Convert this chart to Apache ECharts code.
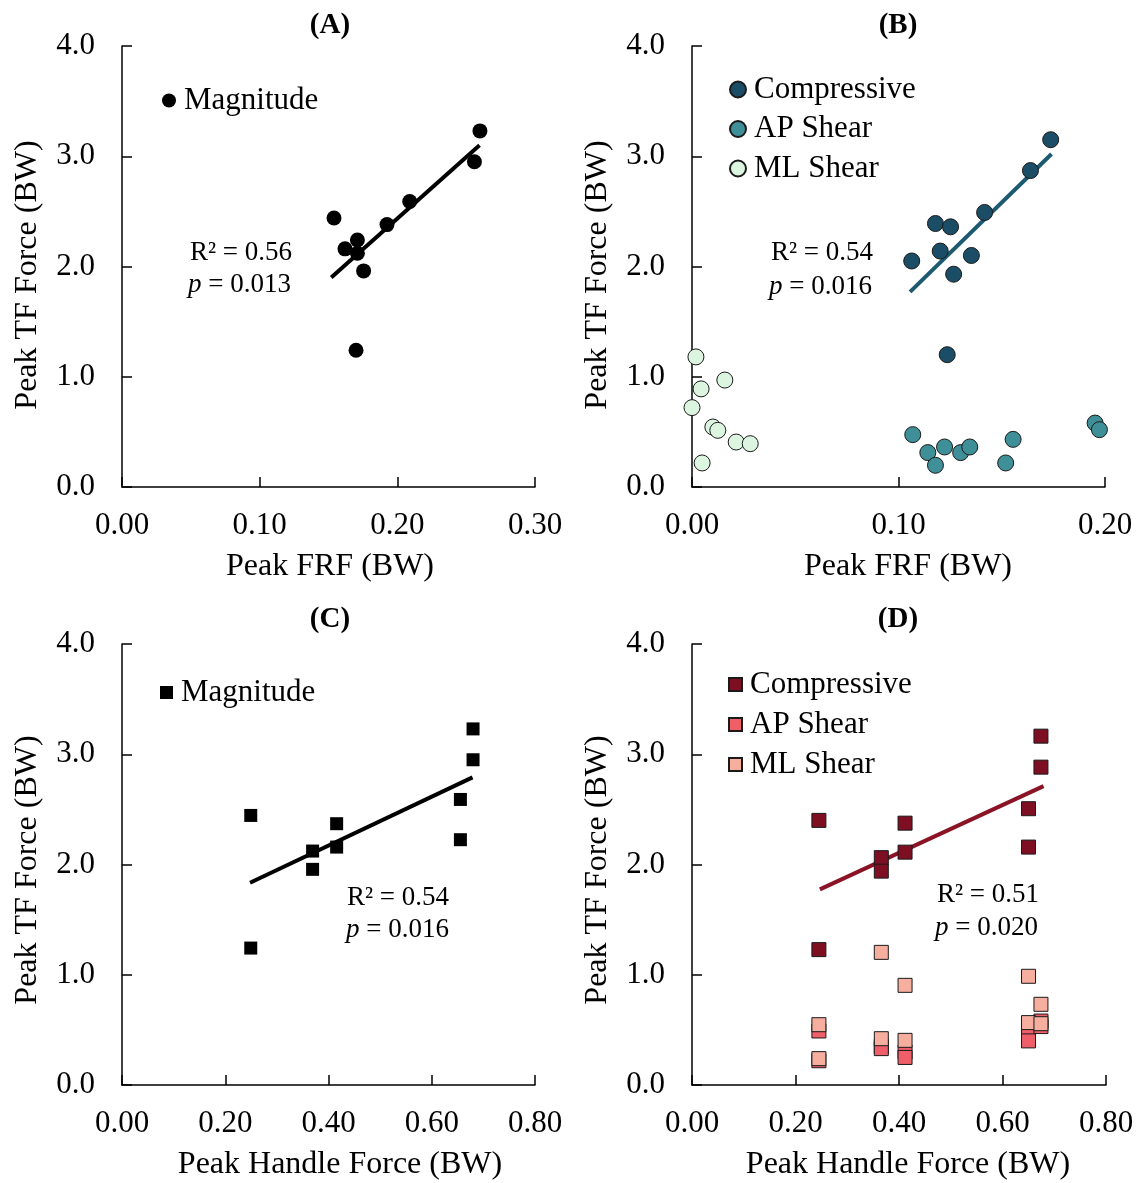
<!DOCTYPE html>
<html><head><meta charset="utf-8">
<script src="https://cdn.jsdelivr.net/npm/echarts@6/dist/echarts.min.js"></script>
<style>html,body{margin:0;padding:0;background:#fff}#c{width:1141px;height:1183px}</style>
</head><body><div id="c"></div>
<script>
const FONT = "'Liberation Serif','Times New Roman',serif";

// ---------- Panel A: Peak FRF vs Peak TF Force (magnitude) ----------
const A_mag_x = [0.260, 0.256, 0.154, 0.209, 0.1925, 0.171, 0.162, 0.171, 0.1755, 0.170];
const A_mag_y = [3.23, 2.95, 2.44, 2.59, 2.38, 2.24, 2.16, 2.12, 1.96, 1.24];
const A_trend_x = [0.152, 0.2597];
const A_trend_y = [1.90, 3.10];

// ---------- Panel B: Peak FRF vs components ----------
const B_comp_x = [0.1737, 0.1639, 0.1417, 0.1179, 0.1252, 0.1202, 0.1353, 0.1064, 0.1267, 0.1236];
const B_comp_y = [3.15, 2.87, 2.49, 2.39, 2.36, 2.14, 2.10, 2.05, 1.93, 1.20];
const B_ap_x = [0.1952, 0.1973, 0.1069, 0.1555, 0.1142, 0.1223, 0.1301, 0.1345, 0.1179, 0.1519];
const B_ap_y = [0.58, 0.52, 0.475, 0.432, 0.312, 0.363, 0.312, 0.363, 0.197, 0.218];
const B_ml_x = [0.0019, 0.0159, 0.0044, 0.0000, 0.0101, 0.0125, 0.0214, 0.0282, 0.0049];
const B_ml_y = [1.18, 0.97, 0.89, 0.72, 0.544, 0.514, 0.408, 0.393, 0.218];
const B_trend_x = [0.1056, 0.1741];
const B_trend_y = [1.77, 3.02];

// ---------- Panel C: Peak Handle Force vs Peak TF Force (magnitude) ----------
const C_mag_x = [0.680, 0.680, 0.6555, 0.6555, 0.2494, 0.2494, 0.4158, 0.4158, 0.3692, 0.3692];
const C_mag_y = [3.23, 2.95, 2.59, 2.225, 2.445, 1.242, 2.37, 2.158, 2.122, 1.956];
const C_trend_x = [0.248, 0.679];
const C_trend_y = [1.835, 2.79];

// ---------- Panel D: Peak Handle Force vs components ----------
const D_x = [0.2452, 0.2452, 0.3658, 0.3658, 0.4117, 0.4117, 0.6503, 0.6503, 0.6743, 0.6743];
const D_comp_y = [2.40, 1.228, 2.062, 1.94, 2.375, 2.112, 2.506, 2.158, 3.164, 2.883];
const D_ap_y = [0.49, 0.22, 0.35, 0.33, 0.30, 0.25, 0.49, 0.40, 0.58, 0.53];
const D_ml_y = [0.547, 0.239, 1.203, 0.42, 0.904, 0.405, 0.986, 0.566, 0.732, 0.556];
const D_trend_x = [0.2471, 0.6793];
const D_trend_y = [1.774, 2.711];

// ---------- Axes / labels ----------
const yTicks = { min: 0, max: 4, interval: 1, decimals: 1 };
const xTicksFRF_A = { min: 0, max: 0.3, interval: 0.1, decimals: 2 };
const xTicksFRF_B = { min: 0, max: 0.2, interval: 0.1, decimals: 2 };
const xTicksHandle = { min: 0, max: 0.8, interval: 0.2, decimals: 2 };
const panelTitles = ['(A)', '(B)', '(C)', '(D)'];
const xTitles = ['Peak FRF (BW)', 'Peak FRF (BW)', 'Peak Handle Force (BW)', 'Peak Handle Force (BW)'];
const yTitle = 'Peak TF Force (BW)';
const annR2 = ['R² = 0.56', 'R² = 0.54', 'R² = 0.54', 'R² = 0.51'];
const annP = ['0.013', '0.016', '0.016', '0.020'];

const COL = {
  black: '#000000',
  bComp: '#1b4e66', bAP: '#3f8f98', bML: '#dcf5e1', bTrend: '#1d5a72',
  dComp: '#7e0f22', dAP: '#ef5f69', dML: '#f6ae9f', dTrend: '#8a1426'
};

function pairs(xs, ys) { return xs.map((x, i) => [x, ys[i]]); }

const chart = echarts.init(document.getElementById('c'));

const grids = [
  { left: 122, top: 46, width: 413, height: 441 },
  { left: 692, top: 46, width: 413, height: 441 },
  { left: 122, top: 644, width: 413, height: 441 },
  { left: 692, top: 644, width: 414, height: 441 }
];

function axisCommon(t, idx, isY) {
  return {
    type: 'value', gridIndex: idx, min: t.min, max: t.max, interval: t.interval,
    axisLine: { show: true, onZero: false, lineStyle: { color: '#000', width: 1.5 } },
    axisTick: { show: true, inside: true, length: 10, lineStyle: { color: '#000', width: 1.5 } },
    splitLine: { show: false },
    axisLabel: {
      fontFamily: FONT, fontSize: 31, color: '#000', margin: isY ? 27 : 23,
      formatter: v => v.toFixed(t.decimals)
    }
  };
}

const xAxes = [
  axisCommon(xTicksFRF_A, 0, false), axisCommon(xTicksFRF_B, 1, false),
  axisCommon(xTicksHandle, 2, false), axisCommon(xTicksHandle, 3, false)
];
const yAxes = [0, 1, 2, 3].map(i => axisCommon(yTicks, i, true));

function scatter(name, idx, data, symbol, size, color, border) {
  return {
    name, type: 'scatter', xAxisIndex: idx, yAxisIndex: idx, data, symbol, symbolSize: size,
    itemStyle: { color, borderColor: border ? '#1a1a1a' : color, borderWidth: border ? 1 : 0, opacity: 1 },
    z: 3, emphasis: { disabled: true }
  };
}
function trend(idx, xs, ys, color) {
  return {
    type: 'line', xAxisIndex: idx, yAxisIndex: idx, data: pairs(xs, ys),
    symbol: 'none', showSymbol: false, lineStyle: { color, width: 4 }, z: 2,
    emphasis: { disabled: true }, silent: true
  };
}

const series = [
  trend(0, A_trend_x, A_trend_y, COL.black),
  scatter('A|Magnitude', 0, pairs(A_mag_x, A_mag_y), 'circle', 15, COL.black, false),

  trend(1, B_trend_x, B_trend_y, COL.bTrend),
  scatter('B|Compressive', 1, pairs(B_comp_x, B_comp_y), 'circle', 16, COL.bComp, true),
  scatter('B|AP Shear', 1, pairs(B_ap_x, B_ap_y), 'circle', 16, COL.bAP, true),
  scatter('B|ML Shear', 1, pairs(B_ml_x, B_ml_y), 'circle', 16, COL.bML, true),

  trend(2, C_trend_x, C_trend_y, COL.black),
  scatter('C|Magnitude', 2, pairs(C_mag_x, C_mag_y), 'rect', 13, COL.black, false),

  trend(3, D_trend_x, D_trend_y, COL.dTrend),
  scatter('D|Compressive', 3, pairs(D_x, D_comp_y), 'rect', 14, COL.dComp, true),
  scatter('D|AP Shear', 3, pairs(D_x, D_ap_y), 'rect', 14, COL.dAP, true),
  scatter('D|ML Shear', 3, pairs(D_x, D_ml_y), 'rect', 14, COL.dML, true)
];

function legend(names, left, top, size, gap) {
  return {
    data: names, orient: 'vertical', left, top, itemWidth: size, itemHeight: size, itemGap: gap,
    selectedMode: false, padding: 0,
    formatter: n => n.split('|')[1],
    textStyle: { fontFamily: FONT, fontSize: 31, color: '#000', padding: [0, 0, 0, 3] }
  };
}

const legends = [
  legend(['A|Magnitude'], 162, 85, 14, 8),
  legend(['B|Compressive', 'B|AP Shear', 'B|ML Shear'], 729, 74, 16, 8.5),
  legend(['C|Magnitude'], 160, 677, 13, 8),
  legend(['D|Compressive', 'D|AP Shear', 'D|ML Shear'], 728, 669, 13, 9)
];

const graphics = [];
const titlePos = [[330, 26], [898, 26], [330, 620], [898, 620]];
const xTitlePos = [[330, 567], [908, 567], [340, 1165], [908, 1165]];
const yTitlePos = [[28, 275], [598, 275], [28, 870], [598, 870]];
const r2Pos = [[190, 253], [771, 253], [347, 898], [937, 895]];
const pPos = [[188, 285], [769, 287], [346, 930], [935, 928]];

for (let i = 0; i < 4; i++) {
  graphics.push({
    type: 'text', x: titlePos[i][0], y: titlePos[i][1], silent: true,
    style: { text: panelTitles[i], font: 'bold 29px ' + FONT, fill: '#000',
      align: 'center', verticalAlign: 'middle', textAlign: 'center', textVerticalAlign: 'middle' }
  });
  graphics.push({
    type: 'text', x: xTitlePos[i][0], y: xTitlePos[i][1], silent: true,
    style: { text: xTitles[i], font: '32px ' + FONT, fill: '#000',
      align: 'center', verticalAlign: 'middle', textAlign: 'center', textVerticalAlign: 'middle' }
  });
  graphics.push({
    type: 'text', x: yTitlePos[i][0], y: yTitlePos[i][1], rotation: Math.PI / 2, silent: true,
    style: { text: yTitle, font: '32px ' + FONT, fill: '#000',
      align: 'center', verticalAlign: 'middle', textAlign: 'center', textVerticalAlign: 'middle' }
  });
  graphics.push({
    type: 'text', x: r2Pos[i][0], y: r2Pos[i][1], silent: true,
    style: { text: annR2[i], font: '27px ' + FONT, fill: '#000',
      align: 'left', verticalAlign: 'middle', textAlign: 'left', textVerticalAlign: 'middle' }
  });
  graphics.push({
    type: 'text', x: pPos[i][0], y: pPos[i][1], silent: true,
    style: { text: '{i|p} = ' + annP[i], font: '27px ' + FONT, fill: '#000',
      rich: { i: { fontStyle: 'italic', fontFamily: FONT, fontSize: 27, fill: '#000', color: '#000' } },
      align: 'left', verticalAlign: 'middle', textAlign: 'left', textVerticalAlign: 'middle' }
  });
}

chart.setOption({
  backgroundColor: '#fff',
  animation: false,
  grid: grids,
  xAxis: xAxes,
  yAxis: yAxes,
  legend: legends,
  series,
  graphic: { elements: graphics }
});
</script>
</body></html>
